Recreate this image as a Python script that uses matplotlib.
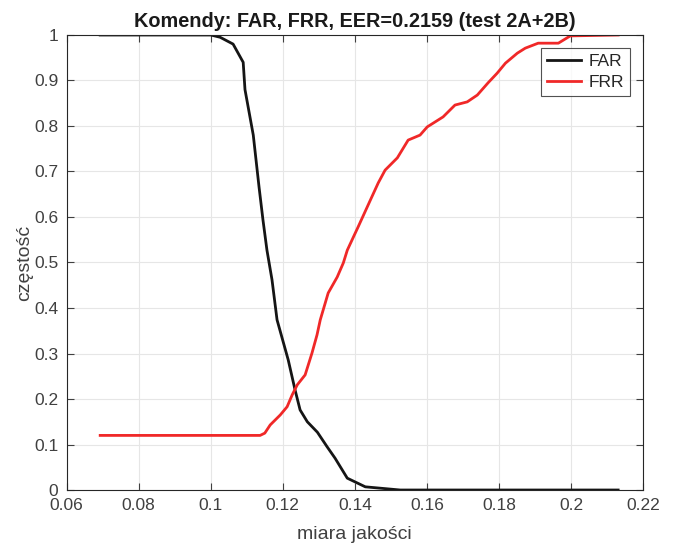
import matplotlib
matplotlib.use("Agg")
import matplotlib.pyplot as plt

plt.rcParams['font.family'] = ['Liberation Sans', 'DejaVu Sans']

title = "Komendy: FAR, FRR, EER=0.2159 (test 2A+2B)"
xlabel = "miara jakości"
ylabel = "częstość"

far_x = [0.0693, 0.1000, 0.1026, 0.1062, 0.1090, 0.1095, 0.1118, 0.1134, 0.1145,
         0.1156, 0.1170, 0.1184, 0.1215, 0.1234, 0.1248, 0.1268, 0.1296, 0.1323,
         0.1345, 0.1379, 0.1429, 0.1526, 0.2131]
far_y = [1.0, 1.0, 0.995, 0.98, 0.94, 0.88, 0.78, 0.666, 0.593,
         0.527, 0.462, 0.374, 0.286, 0.22, 0.176, 0.15, 0.127, 0.095,
         0.07, 0.026, 0.007, 0.0, 0.0]

frr_x = [0.0693, 0.1137, 0.1150, 0.1165, 0.1193, 0.1212, 0.1226, 0.1240, 0.1262, 0.1281,
         0.1295, 0.1304, 0.1326, 0.1351, 0.1368, 0.1379, 0.1396, 0.1409, 0.1443,
         0.1465, 0.1484, 0.1518, 0.1548, 0.1581, 0.1601, 0.1645, 0.1678, 0.1712,
         0.1740, 0.1770, 0.1795, 0.1818, 0.1851, 0.1873, 0.1909, 0.1965, 0.1998,
         0.2131]
frr_y = [0.12, 0.12, 0.125, 0.143, 0.165, 0.183, 0.209, 0.231, 0.253, 0.301,
         0.341, 0.374, 0.433, 0.468, 0.499, 0.527, 0.556, 0.578, 0.637,
         0.675, 0.703, 0.730, 0.769, 0.780, 0.798, 0.820, 0.846, 0.853,
         0.868, 0.895, 0.916, 0.938, 0.960, 0.971, 0.982, 0.982, 0.998,
         1.0]

xticks = [0.06, 0.08, 0.1, 0.12, 0.14, 0.16, 0.18, 0.2, 0.22]
xticklabels = ["0.06", "0.08", "0.1", "0.12", "0.14", "0.16", "0.18", "0.2", "0.22"]
yticks = [0, 0.1, 0.2, 0.3, 0.4, 0.5, 0.6, 0.7, 0.8, 0.9, 1]
yticklabels = ["0", "0.1", "0.2", "0.3", "0.4", "0.5", "0.6", "0.7", "0.8", "0.9", "1"]

fig = plt.figure(figsize=(6.75, 5.45), dpi=100)
ax = fig.add_axes([0.0988, 0.1009, 0.8538, 0.8349])

ax.plot(far_x, far_y, color='#151515', lw=2.0, label='FAR')
ax.plot(frr_x, frr_y, color='#f02828', lw=2.0, label='FRR')

ax.set_xlim(0.06, 0.22)
ax.set_ylim(0, 1)
ax.set_xticks(xticks)
ax.set_xticklabels(xticklabels)
ax.set_yticks(yticks)
ax.set_yticklabels(yticklabels)

tc = '#404040'
ax.tick_params(direction='in', top=True, right=True, length=5, width=0.8,
               colors=tc, labelsize=12.5, labelcolor=tc, pad=6)
for s in ax.spines.values():
    s.set_color('#262626')
    s.set_linewidth(0.8)
ax.grid(True, color='#e6e6e6', lw=0.8)
ax.set_axisbelow(True)

ax.set_title(title, fontsize=14.3, fontweight='bold', color='#1a1a1a', pad=6)
ax.set_xlabel(xlabel, fontsize=14, color=tc, labelpad=9)
ax.set_ylabel(ylabel, fontsize=14, color=tc, labelpad=1)

leg = ax.legend(loc='upper right', fontsize=12.5, frameon=True, fancybox=False,
                edgecolor='#262626', borderaxespad=0.75, handlelength=2.0,
                handletextpad=0.4, borderpad=0.35, labelspacing=0.3)
leg.get_frame().set_linewidth(0.8)
for t in leg.get_texts():
    t.set_color('#262626')

fig.savefig('out.png', dpi=100)
